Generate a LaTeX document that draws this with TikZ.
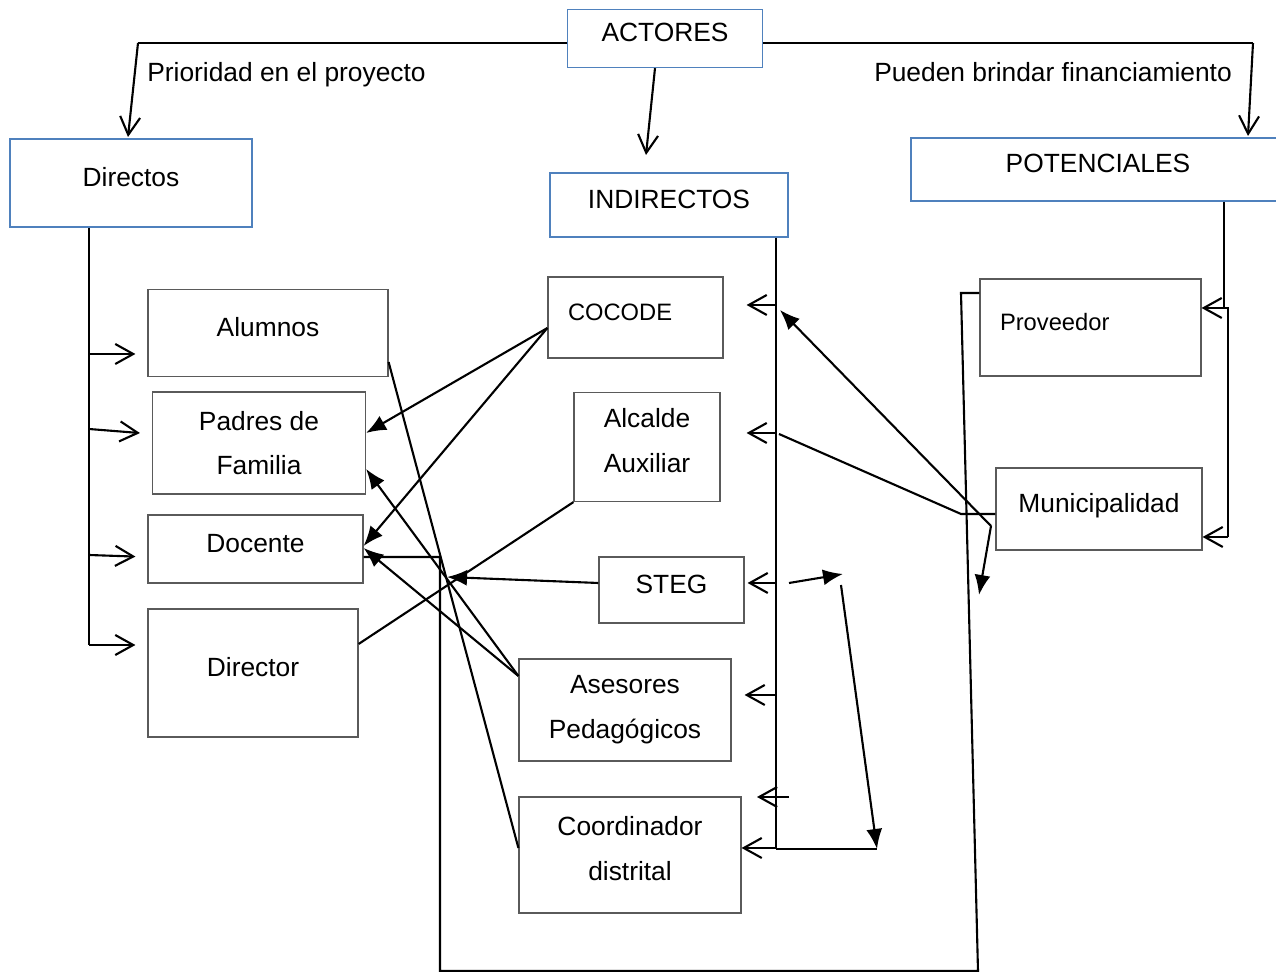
\documentclass[tikz,border=0pt]{standalone}
\usepackage{fontspec}
\setmainfont{Liberation Sans}
\usetikzlibrary{arrows.meta}
\definecolor{boxblue}{RGB}{79,129,189}
\definecolor{boxgray}{RGB}{90,90,90}

\begin{document}
\begin{tikzpicture}[x=0.02cm, y=-0.02cm]
\tikzstyle{every node}=[font=\fontsize{15}{25.5}\selectfont, inner sep=0pt, align=center];
\tikzstyle{box}=[draw=boxgray, line width=0.7pt];
\tikzstyle{head}=[draw=boxblue, line width=0.8pt];
\tikzstyle{one}=[text height=10.8pt, text depth=6.9pt];
\tikzstyle{two}=[text height=36.1pt, text depth=7.5pt];
\tikzstyle{small}=[font=\fontsize{13.5}{16}\selectfont, align=left, inner xsep=0.4cm];
\tikzstyle{link}=[line width=1.2pt];
\tikzstyle{open}=[link, -{Straight Barb[length=3.6mm, width=4mm]}];
\tikzstyle{fat}=[link, -{Latex[length=4mm, width=3.2mm]}];
\useasboundingbox (0,0) rectangle (1276,972);

% groups
\node [head, one, minimum width=3.9cm, minimum height=1.16cm] (actores) at (665,38.5) {ACTORES};
\node [head, one, minimum width=4.84cm, minimum height=1.76cm] (directos) at (131,183) {Directos};
\node [head, one, minimum width=4.76cm, minimum height=1.28cm] (indirectos) at (669,205) {INDIRECTOS};
\node [head, one, minimum width=7.48cm, minimum height=1.26cm] (potenciales) at (1098,169.5) {POTENCIALES};
\node [anchor=west] (prioridad) at (147,75) {Prioridad en el proyecto};
\node (financiamiento) at (1053,72) {Pueden brindar financiamiento};

% directos
\node [box, one, minimum width=4.8cm, minimum height=1.74cm] (alumnos) at (268,333) {Alumnos};
\node [box, minimum width=4.26cm, minimum height=2.04cm] (padres) at (259,443) {Padres de\\Familia};
\node [box, one, minimum width=4.3cm, minimum height=1.36cm] (docente) at (255.5,549) {Docente};
\node [box, one, minimum width=4.2cm, minimum height=2.56cm] (director) at (253,673) {Director};

% indirectos
\node [box, one, small, text width=2.7cm, minimum height=1.62cm] (cocode) at (635.5,317.5) {COCODE};
\node [box, two, minimum width=2.92cm, minimum height=2.18cm] (alcalde) at (647,447) {Alcalde\\Auxiliar};
\node [box, one, minimum width=2.9cm, minimum height=1.32cm] (steg) at (671.5,590) {STEG};
\node [box, minimum width=4.24cm, minimum height=2.04cm] (asesores) at (625,710) {Asesores\\Pedagógicos};
\node [box, two, minimum width=4.44cm, minimum height=2.32cm] (coordinador) at (630,855) {Coordinador\\distrital};

% potenciales
\node [box, one, small, text width=3.62cm, minimum height=1.94cm] (proveedor) at (1090.5,327.5) {Proveedor};
\node [box, one, minimum width=4.12cm, minimum height=1.64cm] (municipalidad) at (1099,509) {Municipalidad};

\coordinate (lbend) at (138,43);
\coordinate (rbend) at (1253,43);
\coordinate (dtip) at (128,137);
\coordinate (ptip) at (1248,136);
\coordinate (itip) at (646,155);
\draw [link] (actores.west |- lbend) -- (lbend);
\draw [open] (lbend) -- (dtip);
\draw [link] (actores.east |- rbend) -- (rbend);
\draw [open] (rbend) -- (ptip);
\draw [open] (actores.south -| 655,0) -- (itip);

% trunk of directos
\coordinate (dtop) at (directos.south -| 89,0);
\coordinate (dbot) at (89,645);
\draw [link] (dtop) -- (dbot);
\foreach \n/\a/\b in {alumnos/354/354, padres/429/434, docente/555/557, director/645/645}
  \draw [open, shorten >=0.24cm] (dtop |- 0,\a) -- (\n.west |- 0,\b);

% trunk of indirectos
\coordinate (itop) at (indirectos.south -| 776,0);
\coordinate (ibot) at (776,849);
\draw [link] (itop) -- (ibot);
\foreach \n/\y/\s in {cocode/305/0.46cm, alcalde/433/0.52cm, steg/583/0.06cm, asesores/695/0.26cm, coordinador/848/0cm}
  \draw [open, shorten >=\s] (itop |- 0,\y) -- (\n.east |- 0,\y);
\coordinate (stub) at (789,797);
\coordinate (stubtip) at (757,797);
\draw [open] (stub) -- (stubtip);

% loop
\coordinate (lcorner) at (877,849);
\coordinate (ltop) at (841,585);
\coordinate (lfrom) at (789,583);
\coordinate (lto) at (843,574);
\draw [link] (ibot) -- (lcorner);
\draw [fat] (ltop) -- (lcorner);
\draw [fat] (lfrom) -- (lto);

% trunk of potenciales
\coordinate (ptop) at (potenciales.south -| 1224,0);
\coordinate (pmid) at (1224,308);
\coordinate (pmid2) at (1228,308);
\coordinate (pbot) at (1228,537);
\draw [link] (ptop) -- (pmid) -- (pmid2) -- (pbot);
\draw [open] (pmid) -- (proveedor.east |- pmid);
\draw [open] (pbot) -- (municipalidad.east |- pbot);

% crossings
\coordinate (stegtip) at (447,577);
\draw [fat] (cocode.west |- 0,328) -- (padres.east |- 0,433);
\draw [fat] (cocode.west |- 0,328) -- (docente.east |- 0,546);
\draw [link] (alumnos.east |- 0,362) -- (coordinador.west |- 0,848);
\draw [fat] (asesores.west |- 0,676) -- (padres.east |- 0,469);
\draw [fat] (asesores.west |- 0,676) -- (docente.east |- 0,548);
\draw [link] (director.east |- 0,644) -- (alcalde.south west);
\draw [fat] (steg.west |- 0,583) -- (stegtip);

% outline
\draw [link] (docente.east |- 0,557) -- (440,557) -- (440,971) -- (978,971) -- (961,293) -- (proveedor.west |- 0,293);

% municipalidad
\coordinate (mbend) at (961,514);
\coordinate (aend) at (779,434);
\coordinate (mfork) at (991,526);
\coordinate (ctip) at (780,310);
\coordinate (mtip) at (979,595);
\draw [link] (municipalidad.west |- mbend) -- (mbend) -- (aend);
\draw [fat] (mfork) -- (ctip);
\draw [fat] (mfork) -- (mtip);
\end{tikzpicture}
\end{document}
